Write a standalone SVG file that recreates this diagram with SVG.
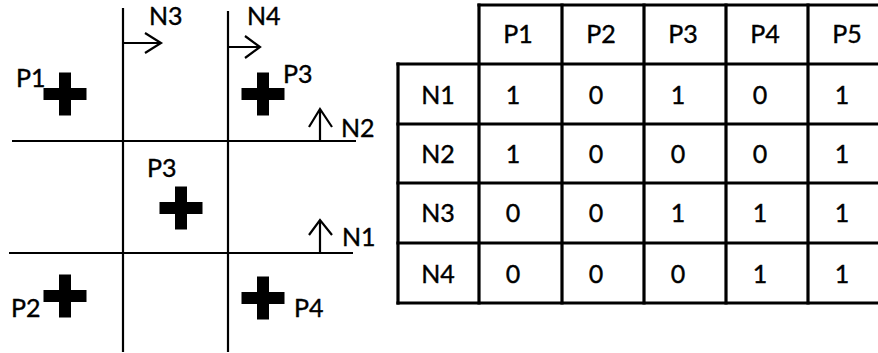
<svg xmlns="http://www.w3.org/2000/svg" xmlns:xlink="http://www.w3.org/1999/xlink" width="878" height="353" viewBox="0 0 878 353">
  <style>
    text { font-family: Lato, "Open Sans", "Liberation Sans", sans-serif; font-size: 25px; fill: #000; stroke: #000; stroke-width: 0.4px; }
    .c { text-anchor: middle; }
    .grid { stroke: #000; stroke-width: 2.2; fill: none; }
    .arrow { stroke: #000; stroke-width: 2.2; fill: none; stroke-linejoin: miter; }
    .tbl { stroke: #000; stroke-width: 3.2; fill: none; stroke-linecap: square; }
  </style>
  <defs>
    <!-- pin cross: 43 long, 12 thick, centred on origin -->
    <path id="pin" d="M-21.5,-6 H-6 V-21.5 H6 V-6 H21.5 V6 H6 V21.5 H-6 V6 H-21.5 Z" fill="#000"/>
  </defs>
  <rect width="878" height="353" fill="#fff"/>

  <!-- routing grid -->
  <g id="grid">
    <line class="grid" x1="123" y1="8" x2="123" y2="352"/>
    <line class="grid" x1="228" y1="11" x2="228" y2="352"/>
    <line class="grid" x1="12" y1="141" x2="356" y2="141"/>
    <line class="grid" x1="9" y1="253" x2="353" y2="253"/>
  </g>

  <!-- direction arrows for nets -->
  <g id="connectors">
    <path class="arrow" d="M123,43 H161 M145,33 L161,43 L145,53"/>
    <path class="arrow" d="M228,47 H260 M245,36 L260,47 L245,58"/>
    <path class="arrow" d="M320,141 V109 M309,127 L320,109 L332,127"/>
    <path class="arrow" d="M320,253 V220 M309,235 L320,220 L332,235"/>
  </g>

  <g id="N3"><text x="149" y="25">N3</text></g>
  <g id="N4"><text x="247" y="25">N4</text></g>
  <g id="N2"><text x="341" y="137">N2</text></g>
  <g id="N1"><text x="342" y="246">N1</text></g>

  <!-- pins -->
  <g id="pin-P1"><use xlink:href="#pin" x="65" y="94"/><text x="16" y="87">P1</text></g>
  <g id="pin-P3a"><use xlink:href="#pin" x="263" y="94"/><text x="283" y="83">P3</text></g>
  <g id="pin-P3b"><use xlink:href="#pin" x="181" y="208"/><text x="147" y="177">P3</text></g>
  <g id="pin-P2"><use xlink:href="#pin" x="65" y="296"/><text x="11" y="317">P2</text></g>
  <g id="pin-P4"><use xlink:href="#pin" x="263" y="298"/><text x="294" y="317">P4</text></g>

  <!-- net / pin incidence table -->
  <g id="table">
    <g class="tbl">
      <line x1="479" y1="5" x2="890" y2="5"/>
      <line x1="398" y1="64" x2="890" y2="64"/>
      <line x1="398" y1="124" x2="890" y2="124"/>
      <line x1="398" y1="183" x2="890" y2="183"/>
      <line x1="398" y1="243" x2="890" y2="243"/>
      <line x1="398" y1="303" x2="890" y2="303"/>
      <line x1="398" y1="64" x2="398" y2="303"/>
      <line x1="479" y1="5" x2="479" y2="303"/>
      <line x1="562" y1="5" x2="562" y2="303"/>
      <line x1="644" y1="5" x2="644" y2="303"/>
      <line x1="726" y1="5" x2="726" y2="303"/>
      <line x1="808" y1="5" x2="808" y2="303"/>
    </g>
    <g class="c">
      <text x="518" y="43">P1</text>
      <text x="601" y="43">P2</text>
      <text x="683" y="43">P3</text>
      <text x="765" y="43">P4</text>
      <text x="847" y="43">P5</text>

      <text x="438" y="104">N1</text>
      <text x="513" y="104">1</text><text x="596" y="104">0</text><text x="678" y="104">1</text><text x="760" y="104">0</text><text x="842" y="104">1</text>

      <text x="438" y="163">N2</text>
      <text x="513" y="163">1</text><text x="596" y="163">0</text><text x="678" y="163">0</text><text x="760" y="163">0</text><text x="842" y="163">1</text>

      <text x="438" y="222">N3</text>
      <text x="513" y="222">0</text><text x="596" y="222">0</text><text x="678" y="222">1</text><text x="760" y="222">1</text><text x="842" y="222">1</text>

      <text x="438" y="283">N4</text>
      <text x="513" y="283">0</text><text x="596" y="283">0</text><text x="678" y="283">0</text><text x="760" y="283">1</text><text x="842" y="283">1</text>
    </g>
  </g>
</svg>
